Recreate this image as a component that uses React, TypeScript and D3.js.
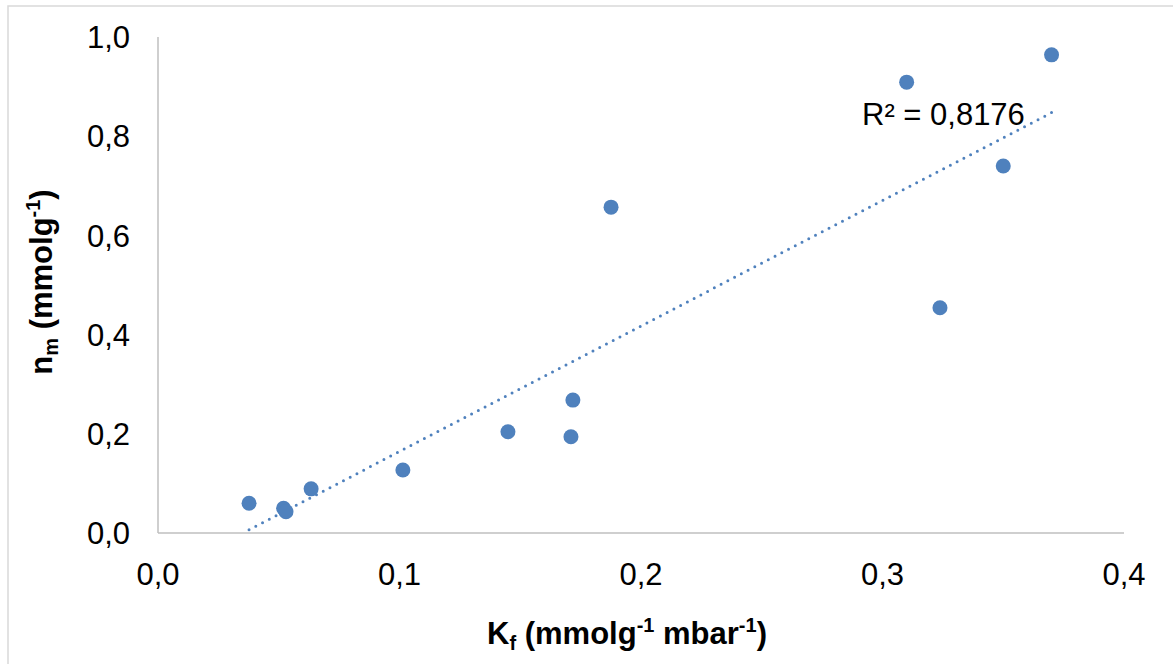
import React from "react";
import * as d3 from "d3";

// Kf (mmolg-1 mbar-1) vs nm (mmolg-1)
const kfValues = [0.0377, 0.052, 0.053, 0.0634, 0.1014, 0.1449, 0.171, 0.1718, 0.1876, 0.31, 0.3238, 0.35, 0.37];
const nmValues = [0.06, 0.05, 0.043, 0.089, 0.127, 0.204, 0.194, 0.268, 0.657, 0.909, 0.454, 0.74, 0.964];
const xTicks = [0, 0.1, 0.2, 0.3, 0.4];
const yTicks = [0, 0.2, 0.4, 0.6, 0.8, 1.0];
const r2Label = "R² = 0,8176";

const W = 1173;
const H = 664;
const fmt = (v: number) => v.toFixed(1).replace(".", ",");

export default function App() {
  const x = d3.scaleLinear().domain([0, 0.4]).range([158, 1124]);
  const y = d3.scaleLinear().domain([0, 1]).range([533, 37]);

  const points = kfValues.map((k, i) => [k, nmValues[i]] as [number, number]);

  // least squares trendline, like Excel's linear trend
  const mx = d3.mean(kfValues) as number;
  const my = d3.mean(nmValues) as number;
  let sxy = 0;
  let sxx = 0;
  points.forEach(([a, b]) => {
    sxy += (a - mx) * (b - my);
    sxx += (a - mx) * (a - mx);
  });
  const slope = sxy / sxx;
  const icpt = my - slope * mx;
  const [x0, x1] = d3.extent(kfValues) as [number, number];
  const trend = d3.line<number>()
    .x((d) => x(d))
    .y((d) => y(slope * d + icpt))([x0, x1]);

  const font = "Arial, 'Liberation Sans', sans-serif";
  const blue = "#4f81bd";

  return (
    <svg width={W} height={H} style={{ position: "absolute", left: 0, top: 0, background: "#fff" }}>
      <rect x={8} y={6} width={W} height={H} fill="none" stroke="#d9d9d9" strokeWidth={1.5} />

      {/* axes */}
      <line x1={x(0)} x2={x(0)} y1={y(0)} y2={y(1)} stroke="#bfbfbf" strokeWidth={1.5} />
      <line x1={x(0)} x2={x(0.4)} y1={y(0)} y2={y(0)} stroke="#bfbfbf" strokeWidth={1.5} />

      {yTicks.map((t) => (
        <text key={"y" + t} x={130} y={y(t)} dy="0.36em" textAnchor="end"
          fontFamily={font} fontSize={31} fill="#000">{fmt(t)}</text>
      ))}
      {xTicks.map((t) => (
        <text key={"x" + t} x={x(t)} y={585} textAnchor="middle"
          fontFamily={font} fontSize={31} fill="#000">{fmt(t)}</text>
      ))}

      {/* trendline */}
      <path d={trend || ""} fill="none" stroke={blue} strokeWidth={3}
        strokeLinecap="round" strokeDasharray="0 7.6" />

      {points.map(([a, b], i) => (
        <circle key={i} cx={x(a)} cy={y(b)} r={7.5} fill={blue} />
      ))}

      <text x={862} y={125} fontFamily={font} fontSize={31} fill="#000">{r2Label}</text>

      {/* axis titles */}
      <text x={627} y={644} textAnchor="middle" fontFamily={font} fontSize={31} fontWeight="bold" fill="#000">
        K<tspan fontSize={20} dy={6}>f</tspan>
        <tspan dy={-6}> (mmolg</tspan>
        <tspan fontSize={20} dy={-12}>-1</tspan>
        <tspan dy={12}> mbar</tspan>
        <tspan fontSize={20} dy={-12}>-1</tspan>
        <tspan dy={12}>)</tspan>
      </text>
      <text transform="translate(52,282) rotate(-90)" textAnchor="middle" fontFamily={font}
        fontSize={31} fontWeight="bold" fill="#000">
        n<tspan fontSize={20} dy={6}>m</tspan>
        <tspan dy={-6}> (mmolg</tspan>
        <tspan fontSize={20} dy={-12}>-1</tspan>
        <tspan dy={12}>)</tspan>
      </text>
    </svg>
  );
}
